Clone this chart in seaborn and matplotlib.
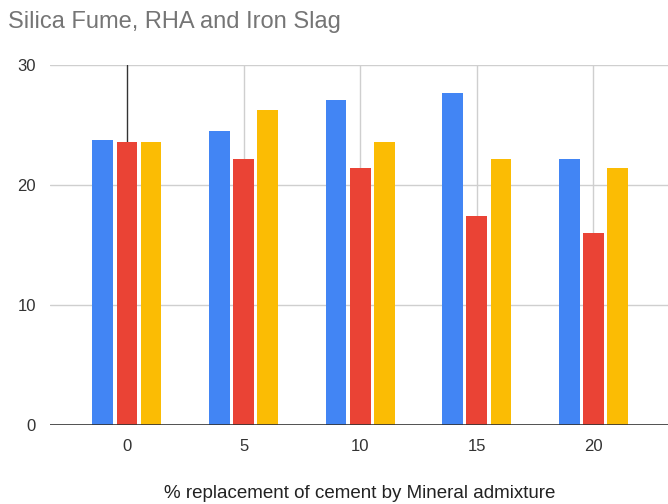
import matplotlib
matplotlib.use("Agg")
import matplotlib.pyplot as plt
import seaborn as sns
import pandas as pd

# % replacement of cement and the three admixture series
replacement = [0, 5, 10, 15, 20]
silica_fume = [23.75, 24.5, 27.1, 27.7, 22.2]
rha = [23.6, 22.2, 21.4, 17.4, 16.0]
iron_slag = [23.6, 26.25, 23.6, 22.2, 21.4]
series_names = ["Silica Fume", "RHA", "Iron Slag"]
y_ticks = [0, 10, 20, 30]

colors = ["#4285F4", "#EA4335", "#FBBC04"]

rows = []
for name, vals in zip(series_names, [silica_fume, rha, iron_slag]):
    for x, v in zip(replacement, vals):
        rows.append({"replacement": x, "value": v, "series": name})
df = pd.DataFrame(rows)

sns.set_theme(style="white")
plt.rcParams["font.family"] = ["Liberation Sans", "DejaVu Sans"]

fig = plt.figure(figsize=(6.68, 5.04), dpi=100)
ax = fig.add_axes([50 / 668, 79 / 504, 618 / 668, 360 / 504])

sns.barplot(data=df, x="replacement", y="value", hue="series",
            palette=colors, saturation=1, native_scale=True, width=0.62,
            dodge=True, errorbar=None, legend=False, ax=ax, zorder=2)

# leave a thin white gap between neighbouring bars
for p in ax.patches:
    w = p.get_width()
    p.set_x(p.get_x() + w * 0.07)
    p.set_width(w * 0.86)
    p.set_linewidth(0)

ax.set_xlim(-3.3, 23.2)
ax.set_ylim(0, 30)
ax.set_xticks(replacement)
ax.set_xticklabels([str(x) for x in replacement])
ax.set_yticks(y_ticks)
ax.set_yticklabels([str(y) for y in y_ticks])

for y in y_ticks[1:]:
    ax.axhline(y, color="#cfcfcf", lw=1, zorder=0)
for x in replacement[1:]:
    ax.axvline(x, color="#cfcfcf", lw=1, zorder=0)
ax.axvline(0, color="#333333", lw=1, zorder=0.5)
ax.axhline(0, color="#333333", lw=1.2, zorder=3)

for s in ax.spines.values():
    s.set_visible(False)

ax.tick_params(axis="both", length=0, labelsize=12, colors="#333333")
ax.tick_params(axis="y", pad=10)
ax.tick_params(axis="x", pad=10)

ax.set_xlabel("% replacement of cement by Mineral admixture",
              fontsize=13.5, color="#222222", va="center")
ax.xaxis.set_label_coords((360 - 50) / 618, (425 - 493) / 360)
ax.set_ylabel("")

fig.text(8 / 668, 1 - 22 / 504, "Silica Fume, RHA and Iron Slag",
         fontsize=17, color="#757575", va="center", ha="left")

fig.savefig("out.png", dpi=100)
